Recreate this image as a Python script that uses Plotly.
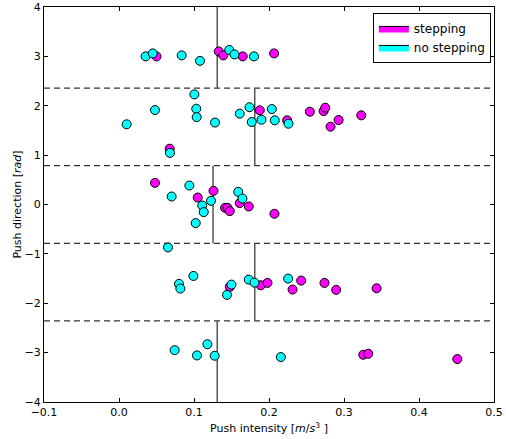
import math
import plotly.graph_objects as go

# ---- data ----
step_x = [0.050, 0.133, 0.139, 0.165, 0.2068,
          0.1877, 0.2242, 0.2545, 0.2728, 0.275, 0.282, 0.2928, 0.323, 0.0676,
          0.048, 0.105, 0.126, 0.1414, 0.1446, 0.1477, 0.161, 0.173, 0.2073,
          0.1477, 0.189, 0.198, 0.2429, 0.2314, 0.274, 0.2896, 0.3435,
          0.3257, 0.3323, 0.4511]
step_y = [3.00, 3.10, 3.02, 3.00, 3.06,
          1.907, 1.705, 1.879, 1.893, 1.96, 1.576, 1.711, 1.806, 1.13,
          0.438, 0.141, 0.277, -0.067, -0.067, -0.134, 0.028, -0.04, -0.188,
          -1.669, -1.636, -1.588, -1.541, -1.723, -1.588, -1.729, -1.697,
          -3.043, -3.023, -3.13]

nostep_x = [0.0355, 0.045, 0.0836, 0.108, 0.147, 0.154, 0.180,
            0.0102, 0.048, 0.1005, 0.103, 0.1036, 0.128, 0.161, 0.174, 0.177,
            0.068, 0.2037, 0.190, 0.2077, 0.226,
            0.0938, 0.0702, 0.111, 0.113, 0.1227, 0.159, 0.1646, 0.1023,
            0.0653, 0.0992, 0.080, 0.0818, 0.144, 0.150, 0.173, 0.1806, 0.2255,
            0.0742, 0.1179, 0.104, 0.1276, 0.2158]
nostep_y = [3.00, 3.06, 3.02, 2.91, 3.13, 3.04, 3.00,
            1.624, 1.913, 2.23, 1.94, 1.77, 1.66, 1.84, 1.97, 1.67,
            1.045, 1.933, 1.717, 1.705, 1.636,
            0.384, 0.162, -0.02, -0.154, 0.075, 0.256, 0.121, -0.376,
            -0.869, -1.447, -1.608, -1.703, -1.83, -1.622, -1.521, -1.582, -1.501,
            -2.95, -2.83, -3.057, -3.063, -3.09]

# sector boundaries (rad) and intensity thresholds per sector
sector_edges = [-4.0, -3 * math.pi / 4, -math.pi / 4, math.pi / 4, 3 * math.pi / 4, 4.0]
thresholds = [0.131, 0.181, 0.1254, 0.181, 0.131]
x_range = [-0.1, 0.5]
y_range = [-4, 4]
y_ticks = [-4, -3, -2, -1, 0, 1, 2, 3, 4]

fig = go.Figure()

# legend-only patches (rectangles)
fig.add_trace(go.Scatter(x=[None], y=[None], mode="lines", fill="toself",
                         fillcolor="#FF00FF", line=dict(color="black", width=1),
                         name="stepping", showlegend=True))
fig.add_trace(go.Scatter(x=[None], y=[None], mode="lines", fill="toself",
                         fillcolor="#00FFFF", line=dict(color="black", width=1),
                         name="no stepping", showlegend=True))

fig.add_trace(go.Scatter(x=step_x, y=step_y, mode="markers", showlegend=False,
                         marker=dict(color="#FF00FF", size=9,
                                     line=dict(color="black", width=1))))
fig.add_trace(go.Scatter(x=nostep_x, y=nostep_y, mode="markers", showlegend=False,
                         marker=dict(color="#00FFFF", size=9,
                                     line=dict(color="black", width=1))))

shapes = []
for yb in sector_edges[1:-1]:
    shapes.append(dict(type="line", xref="x", yref="y", x0=x_range[0], x1=x_range[1],
                       y0=yb, y1=yb, line=dict(color="#333333", width=1.3, dash="6px,4px"),
                       layer="below"))
for i, th in enumerate(thresholds):
    shapes.append(dict(type="line", xref="x", yref="y", x0=th, x1=th,
                       y0=sector_edges[i], y1=sector_edges[i + 1],
                       line=dict(color="#555555", width=1.5), layer="below"))

axis_common = dict(showgrid=False, zeroline=False, showline=True, linecolor="black",
                   linewidth=1, mirror="ticks", ticks="inside", ticklen=4,
                   tickcolor="black", automargin=False,
                   tickfont=dict(family="DejaVu Sans", size=11, color="black"))

fig.update_layout(
    width=506, height=439,
    margin=dict(l=44, r=12, t=7, b=37),
    paper_bgcolor="white", plot_bgcolor="white",
    shapes=shapes,
    xaxis=dict(range=x_range, dtick=0.1, tick0=-0.1, tickformat=".1f",
               title=dict(text="Push intensity [<i>m</i>/<i>s</i><sup>3</sup> ]",
                          font=dict(family="DejaVu Sans", size=11, color="black"),
                          standoff=6),
               **axis_common),
    yaxis=dict(range=y_range, tickmode="array", tickvals=y_ticks,
               ticktext=[str(v).replace("-", "\u2212") for v in y_ticks],
               ticklabeloverflow="allow",
               title=dict(text="Push direction [<i>rad</i>]",
                          font=dict(family="DejaVu Sans", size=11, color="black"),
                          standoff=0),
               **axis_common),
    legend=dict(x=0.993, y=0.985, xanchor="right", yanchor="top",
                bordercolor="black", borderwidth=1, bgcolor="white",
                font=dict(family="DejaVu Sans", size=12, color="black"),
                tracegroupgap=0, itemwidth=30),
    font=dict(family="DejaVu Sans", color="black"),
)

fig.write_html("out.html", config={"displayModeBar": False},
               post_script="document.body.style.margin='0';")
